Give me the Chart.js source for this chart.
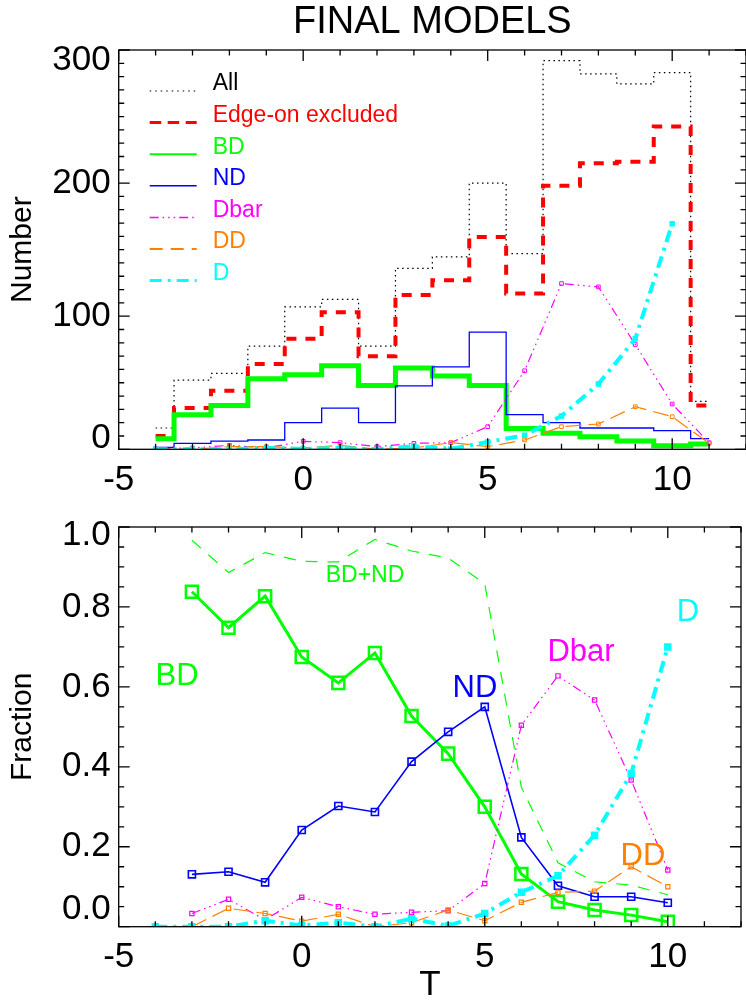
<!DOCTYPE html>
<html>
<head>
<meta charset="utf-8">
<script src="https://cdn.jsdelivr.net/npm/chart.js@4.4.1/dist/chart.umd.min.js"></script>
<style>
  html, body { margin: 0; padding: 0; background: #fff; overflow: hidden; }
  #wrap { position: relative; width: 746px; height: 1003px; overflow: hidden; }
  canvas { position: absolute; left: 0; }
  #topChart { top: 0; }
  #botChart { top: 500px; }
</style>
</head>
<body>
<div id="wrap">
  <canvas id="topChart" width="752" height="500"></canvas>
  <canvas id="botChart" width="752" height="503"></canvas>
</div>
<script>
/* --- data --- */
// top panel: counts per Hubble type T
const T_HIST = [-4, -3, -2, -1, 0, 1, 2, 3, 4, 5, 6, 7, 8, 9, 10, 11];
const allCounts  = [16, 52, 57, 77.5, 107, 112.7, 77.5, 136, 144.5, 200, 147, 292, 282, 274.5, 283, 36];
const edgeCounts = [10, 31, 44, 64, 83, 103, 70, 116, 127, 159.5, 117, 198, 215, 216, 242.5, 33];
const bdCounts   = [8, 26, 33, 53, 56, 62.7, 48, 61, 55, 48, 15.7, 12, 9.5, 6.2, 2.7, 4];
const ndCounts   = [1.5, 4.5, 6.2, 7, 20, 31, 20, 47.7, 62, 88, 26, 20, 16, 16, 14, 8];
const dbarCounts = [0.5, 1, 3, 1, 6, 5, 2, 4.5, 5, 17, 59, 124.5, 122, 78.7, 34, 5];
const ddCounts   = [0, 0, 2, 2, 1, 3, 0, 1, 5, 2, 7, 17, 19, 32, 24.5, 4.5];
const T_D = [-4, -3, -2, -1, 0, 1, 2, 3, 4, 5, 6, 7, 8, 9, 10];
const dCounts = [0, 0, 0, 1, 0.3, 1, 0, 2.3, 0.3, 5.5, 10.5, 25, 49, 83, 169.5];

// bottom panel: fractions
const T_FRAC = [-3, -2, -1, 0, 1, 2, 3, 4, 5, 6, 7, 8, 9, 10];
const bdFrac   = [0.838, 0.748, 0.827, 0.675, 0.61, 0.685, 0.527, 0.433, 0.30, 0.132, 0.0625, 0.042, 0.029, 0.0125];
const ndFrac   = [0.131, 0.1375, 0.111, 0.242, 0.302, 0.287, 0.413, 0.4875, 0.55, 0.2235, 0.1025, 0.075, 0.075, 0.06];
const dbarFrac = [0.033, 0.0685, 0.017, 0.0735, 0.05, 0.031, 0.036, 0.04, 0.108, 0.504, 0.6275, 0.567, 0.367, 0.142];
const ddFrac   = [0.0, 0.046, 0.033, 0.014, 0.031, 0.0, 0.01, 0.042, 0.015, 0.061, 0.086, 0.089, 0.15, 0.10];
const bdndFrac = [0.967, 0.886, 0.936, 0.914, 0.9125, 0.969, 0.94, 0.9225, 0.858, 0.349, 0.16, 0.1125, 0.104, 0.08];
const dFrac    = [0, 0, 0, 0.015, 0.003, 0.01, 0, 0.02, 0.002, 0.033, 0.086, 0.1275, 0.229, 0.383, 0.70];

/* --- styling --- */
const FONT = '"Liberation Sans", Arial, Helvetica, sans-serif';
const GREEN = '#00ff00', BLUE = '#0000ff', RED = '#ff0000', MAGENTA = '#ff00ff',
      ORANGE = '#ff8000', CYAN = '#00ffff', BLACK = '#000000';
const DASH_DBAR = [9, 4, 1.5, 4, 1.5, 4, 1.5, 4];
const DASH_DD = [16, 7];
const DASH_D = [12, 6, 3, 6];
const X_MIN = -5, X_MAX = 12;

const pts = (xs, ys) => xs.map((x, i) => ({ x, y: ys[i] }));

// IDL-like frame: box on all four sides, inward ticks
function framePlugin(yMinor, yMajor) {
  return {
    id: 'frame',
    afterDatasetsDraw(chart) {
      const { ctx, chartArea: a, scales: { x, y } } = chart;
      ctx.save();
      ctx.strokeStyle = BLACK;
      ctx.lineWidth = 1.3;
      ctx.setLineDash([]);
      ctx.strokeRect(a.left, a.top, a.right - a.left, a.bottom - a.top);
      ctx.beginPath();
      for (let i = 0; X_MIN + i <= X_MAX; i++) {
        const v = X_MIN + i;
        const px = x.getPixelForValue(v);
        const len = v % 5 === 0 ? 11 : 5.5;
        ctx.moveTo(px, a.bottom); ctx.lineTo(px, a.bottom - len);
        ctx.moveTo(px, a.top); ctx.lineTo(px, a.top + len);
      }
      for (let i = 0; ; i++) {
        const v = y.min + i * yMinor;
        if (v > y.max + 1e-9) break;
        const py = y.getPixelForValue(v);
        const r = v / yMajor;
        const len = Math.abs(r - Math.round(r)) < 1e-6 ? 11 : 5.5;
        ctx.moveTo(a.left, py); ctx.lineTo(a.left + len, py);
        ctx.moveTo(a.right, py); ctx.lineTo(a.right - len, py);
      }
      ctx.stroke();
      ctx.restore();
    }
  };
}

function axisX(extra) {
  return Object.assign({
    type: 'linear', min: X_MIN, max: X_MAX,
    grid: { display: false, drawTicks: false },
    border: { display: false },
    ticks: { stepSize: 5, includeBounds: false, autoSkip: false, maxRotation: 0,
             padding: 10, color: BLACK, font: { family: FONT, size: 35 } }
  }, extra);
}

// end labels sit inside the axis range, like IDL does (blank lines nudge them)
function yLabel(v, min, max, txt, lowLines) {
  if (v === max) return ['', txt];
  if (v === min) return [txt].concat(Array(lowLines).fill(''));
  return txt;
}

/* --- top panel --- */
const legendRows = [
  { text: 'All', color: BLACK, dash: [1.5, 4], width: 1.2 },
  { text: 'Edge-on excluded', color: RED, dash: [11.5, 6.5], width: 3 },
  { text: 'BD', color: GREEN, dash: [], width: 2 },
  { text: 'ND', color: BLUE, dash: [], width: 1.5 },
  { text: 'Dbar', color: MAGENTA, dash: DASH_DBAR, width: 1.5 },
  { text: 'DD', color: ORANGE, dash: [13, 8], width: 2 },
  { text: 'D', color: CYAN, dash: DASH_D, width: 3 }
];

const topDecor = {
  id: 'topDecor',
  afterDraw(chart) {
    const { ctx, chartArea: a } = chart;
    ctx.save();
    ctx.fillStyle = BLACK;
    ctx.font = `38px ${FONT}`;
    ctx.textAlign = 'center';
    ctx.textBaseline = 'middle';
    ctx.fillText('FINAL MODELS', (a.left + a.right) / 2, 23);

    ctx.font = `23px ${FONT}`;
    ctx.textAlign = 'left';
    legendRows.forEach((row, i) => {
      const ty = 84 + i * 31.6;
      ctx.strokeStyle = row.color;
      ctx.lineWidth = row.width;
      ctx.setLineDash(row.dash);
      ctx.beginPath();
      ctx.moveTo(a.left + 31, ty + 7);
      ctx.lineTo(a.left + 78, ty + 7);
      ctx.stroke();
      ctx.fillStyle = row.color;
      ctx.fillText(row.text, a.left + 94, ty);
    });
    ctx.restore();
  }
};

new Chart(document.getElementById('topChart'), {
  type: 'line',
  data: {
    datasets: [
      { label: 'D', data: pts(T_D, dCounts), borderColor: CYAN, borderWidth: 4, borderDash: DASH_D,
        pointStyle: 'rect', pointRadius: 2.5, pointBorderWidth: 2, pointBorderColor: CYAN, pointBackgroundColor: CYAN },
      { label: 'DD', data: pts(T_HIST, ddCounts), borderColor: ORANGE, borderWidth: 1.2, borderDash: DASH_DD,
        pointStyle: 'rect', pointRadius: 2.6, pointBorderWidth: 1, pointBorderColor: ORANGE, pointBackgroundColor: 'rgba(0,0,0,0)' },
      { label: 'Dbar', data: pts(T_HIST, dbarCounts), borderColor: MAGENTA, borderWidth: 1.2, borderDash: DASH_DBAR,
        pointStyle: 'rect', pointRadius: 2.6, pointBorderWidth: 1, pointBorderColor: MAGENTA, pointBackgroundColor: 'rgba(0,0,0,0)' },
      { label: 'ND', data: pts(T_HIST, ndCounts), stepped: 'middle', borderColor: BLUE, borderWidth: 1.3, pointRadius: 0 },
      { label: 'BD', data: pts(T_HIST, bdCounts), stepped: 'middle', borderColor: GREEN, borderWidth: 5, pointRadius: 0 },
      { label: 'Edge-on excluded', data: pts(T_HIST, edgeCounts), stepped: 'middle', borderColor: RED, borderWidth: 4,
        borderDash: [10, 9], pointRadius: 0 },
      { label: 'All', data: pts(T_HIST, allCounts), stepped: 'middle', borderColor: BLACK, borderWidth: 1.2,
        borderDash: [1.5, 3.5], pointRadius: 0 }
    ]
  },
  options: {
    responsive: false,
    animation: false,
    layout: { padding: { top: 50, right: 1, left: 0, bottom: 0 } },
    elements: { line: { tension: 0, fill: false } },
    plugins: { legend: { display: false }, tooltip: { enabled: false } },
    scales: {
      x: axisX({ afterFit(s) { s.height = 50.7; } }),
      y: {
        type: 'linear', min: 0, max: 300,
        grid: { display: false, drawTicks: false },
        border: { display: false },
        ticks: { stepSize: 100, padding: 8, color: BLACK, font: { family: FONT, size: 35, lineHeight: '21px' },
                 callback: v => yLabel(v, 0, 300, String(v), 1) },
        title: { display: true, text: 'Number', color: BLACK, font: { family: FONT, size: 30, lineHeight: 1 }, padding: { top: 8, bottom: 0 } },
        afterFit(s) { s.width = 118.7; }
      }
    }
  },
  plugins: [framePlugin(10, 100), topDecor]
});

/* --- bottom panel --- */
const fracLabels = [
  { text: 'BD+ND', color: GREEN, size: 23, x: 365, y: 576 },
  { text: 'BD', color: GREEN, size: 31, x: 177, y: 676 },
  { text: 'ND', color: BLUE, size: 31, x: 475, y: 688 },
  { text: 'Dbar', color: MAGENTA, size: 31, x: 581, y: 652 },
  { text: 'D', color: CYAN, size: 31, x: 688, y: 612 },
  { text: 'DD', color: ORANGE, size: 31, x: 643, y: 856 }
];

const botDecor = {
  id: 'botDecor',
  afterDraw(chart) {
    const { ctx } = chart;
    const top = chart.canvas.offsetTop;
    ctx.save();
    ctx.textAlign = 'center';
    ctx.textBaseline = 'middle';
    fracLabels.forEach(l => {
      ctx.fillStyle = l.color;
      ctx.font = `${l.size}px ${FONT}`;
      ctx.fillText(l.text, l.x, l.y - top);
    });
    ctx.restore();
  }
};

new Chart(document.getElementById('botChart'), {
  type: 'line',
  data: {
    datasets: [
      { label: 'BD+ND', data: pts(T_FRAC, bdndFrac), borderColor: GREEN, borderWidth: 1.2, borderDash: [12, 10], pointRadius: 0 },
      { label: 'D', data: pts(T_D, dFrac), borderColor: CYAN, borderWidth: 4, borderDash: DASH_D,
        pointStyle: 'rect', pointRadius: 3.5, pointBorderWidth: 2.5, pointBorderColor: CYAN, pointBackgroundColor: CYAN },
      { label: 'DD', data: pts(T_FRAC, ddFrac), borderColor: ORANGE, borderWidth: 1.2, borderDash: DASH_DD,
        pointStyle: 'rect', pointRadius: 3, pointBorderWidth: 1.2, pointBorderColor: ORANGE, pointBackgroundColor: 'rgba(0,0,0,0)' },
      { label: 'Dbar', data: pts(T_FRAC, dbarFrac), borderColor: MAGENTA, borderWidth: 1.2, borderDash: DASH_DBAR,
        pointStyle: 'rect', pointRadius: 3, pointBorderWidth: 1.2, pointBorderColor: MAGENTA, pointBackgroundColor: 'rgba(0,0,0,0)' },
      { label: 'ND', data: pts(T_FRAC, ndFrac), borderColor: BLUE, borderWidth: 1.6,
        pointStyle: 'rect', pointRadius: 5, pointBorderWidth: 1.6, pointBorderColor: BLUE, pointBackgroundColor: 'rgba(0,0,0,0)' },
      { label: 'BD', data: pts(T_FRAC, bdFrac), borderColor: GREEN, borderWidth: 3,
        pointStyle: 'rect', pointRadius: 8.5, pointBorderWidth: 2.5, pointBorderColor: GREEN, pointBackgroundColor: 'rgba(0,0,0,0)' }
    ]
  },
  options: {
    responsive: false,
    animation: false,
    layout: { padding: { top: 27, right: 1, left: 0, bottom: 0 } },
    elements: { line: { tension: 0, fill: false } },
    plugins: { legend: { display: false }, tooltip: { enabled: false } },
    scales: {
      x: axisX({
        title: { display: true, text: 'T', color: BLACK, font: { family: FONT, size: 35, lineHeight: 1 }, padding: { top: 0, bottom: 0 } },
        afterFit(s) { s.height = 76.3; }
      }),
      y: {
        type: 'linear', min: 0, max: 1,
        grid: { display: false, drawTicks: false },
        border: { display: false },
        ticks: { stepSize: 0.2, padding: 8, color: BLACK, font: { family: FONT, size: 35, lineHeight: '17px' },
                 callback: v => yLabel(v, 0, 1, v.toFixed(1), 2) },
        title: { display: true, text: 'Fraction', color: BLACK, font: { family: FONT, size: 30, lineHeight: 1 }, padding: { top: 8, bottom: 0 } },
        afterFit(s) { s.width = 118.7; }
      }
    }
  },
  plugins: [framePlugin(0.05, 0.2), botDecor]
});
</script>
</body>
</html>
